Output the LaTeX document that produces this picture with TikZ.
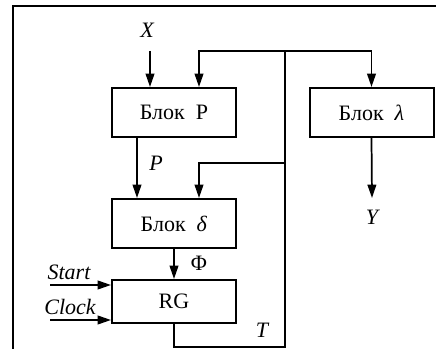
\documentclass[tikz,border=0pt]{standalone}
\usepackage{fontspec}
\setmainfont{Liberation Serif}
\usetikzlibrary{arrows.meta}
\begin{document}
\begin{tikzpicture}[x=0.75pt,y=-0.75pt,
  line width=1.3pt,
  blk/.style={draw,line width=1.5pt,minimum width=93pt,minimum height=36.75pt,inner sep=0pt,font=\fontsize{16.5}{18}\selectfont},
  lbl/.style={font=\fontsize{16.5}{18}\selectfont\itshape,inner sep=0pt},
  arr/.style={-{Triangle[length=10pt,width=6.5pt]}}]
\useasboundingbox (0,0) rectangle (436,349);
% outer frame
\draw (13,349) -- (13,6) -- (436,6);
% blocks
\node[blk] (bp) at (174,112.5) {Блок\enspace Р};
\node[blk] (bl) at (371.5,112.5) {Блок\enspace\textit{λ}};
\node[blk] (bd) at (174,223.5) {Блок\enspace\textit{δ}};
\node[blk,minimum height=32.25pt] (rg) at (174,301.5) {RG};
% labels
\node[lbl] (lx) at (147,30) {X};
\node[lbl] (lp) at (156,163) {P};
\node[lbl] (ly) at (372,217) {Y};
\node[font=\fontsize{16.5}{18}\selectfont,inner sep=0pt] (lphi) at (199,263) {Φ};
\node[lbl] (lt) at (262,330) {T};
\node[lbl] (ls) at (69,272) {Start};
\node[lbl] (lc) at (70,307) {Clock};
% junction points
\coordinate (top) at (285,51);
\coordinate (mid) at (285,163);
\coordinate (bot) at (285,347);
\coordinate (rgb) at (174,347);
\coordinate (xs) at (150,51);
\coordinate (ss) at (50,285);
\coordinate (cs) at (50,320);
\coordinate (ye) at (372,198);
% input X
\draw[arr] (xs) -- (xs |- bp.north);
% state feedback
\draw (rg.south) -- (rgb) -- (bot) -- (top);
\draw[arr] (top) -| (199,0 |- bp.north);
\draw[arr] (top) -| (bl.north);
\draw[arr] (mid) -| (199,0 |- bd.north);
% data path
\draw[arr] (137,0 |- bp.south) -- (137,0 |- bd.north);
\draw[arr] (bd.south) -- (rg.north);
\draw[arr] (bl.south) -- (ye);
% register inputs
\draw[arr] (ss) -- (ss -| rg.west);
\draw[arr] (cs) -- (cs -| rg.west);
\end{tikzpicture}
\end{document}
